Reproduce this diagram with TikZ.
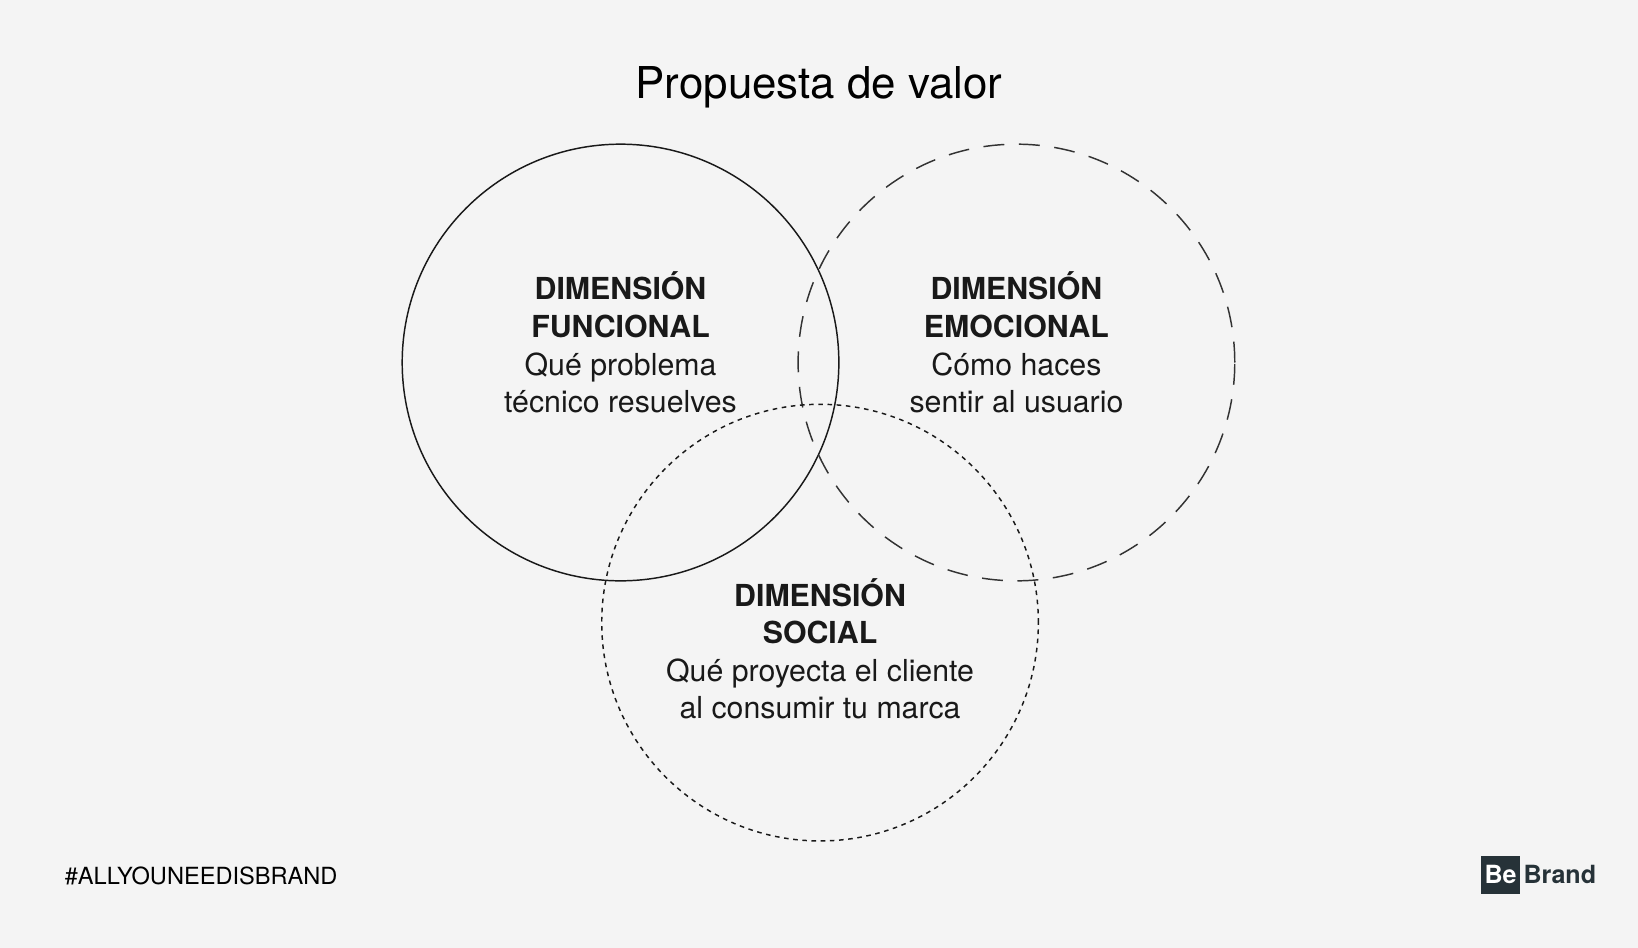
\documentclass[tikz,border=0pt]{standalone}
\usepackage{fontspec}
\setmainfont{TeX Gyre Heros}
\begin{document}
\begin{tikzpicture}[x=0.5pt,y=-0.5pt,
  lbl/.style={align=center,font=\fontsize{14.5}{18}\selectfont,text=black!90},
  circ/.style={draw=black!90,line width=0.7pt}]
\definecolor{bg}{HTML}{F4F4F4}
\definecolor{logo}{HTML}{263238}
\fill[bg] (0,0) rectangle (1568,907);
\useasboundingbox (0,0) rectangle (1568,907);
\node[font=\fontsize{21}{24}\selectfont] (title) at (784,84) {Propuesta de valor};
\node[circ,circle,minimum size=209pt,inner sep=0pt] (f) at (594,347) {};
\node[circ,circle,minimum size=209pt,inner sep=0pt,dash pattern=on 10pt off 7pt,draw=black!80] (e) at (973,347) {};
\node[circ,circle,minimum size=209pt,inner sep=0pt,dash pattern=on 2.2pt off 2.2pt] (s) at (785,596) {};
\node[lbl] (ft) at (594,328) {\textbf{DIMENSIÓN}\\\textbf{FUNCIONAL}\\Qué problema\\técnico resuelves};
\node[lbl] (et) at (973,328) {\textbf{DIMENSIÓN}\\\textbf{EMOCIONAL}\\Cómo haces\\sentir al usuario};
\node[lbl] (st) at (785,621) {\textbf{DIMENSIÓN}\\\textbf{SOCIAL}\\Qué proyecta el cliente\\al consumir tu marca};
\node[anchor=west,font=\fontsize{11.3}{13}\selectfont] (tag) at (55,838) {\#ALLYOUNEEDISBRAND};
\node[fill=logo,text=white,font=\bfseries\fontsize{12}{14}\selectfont,minimum width=18.5pt,minimum height=18pt,inner sep=0pt] (be) at (1436.5,837.5) {Be};
\node[anchor=west,text=logo,font=\bfseries\fontsize{12}{14}\selectfont,inner sep=0pt] (br) at (1458,837.5) {Brand};
\end{tikzpicture}
\end{document}
